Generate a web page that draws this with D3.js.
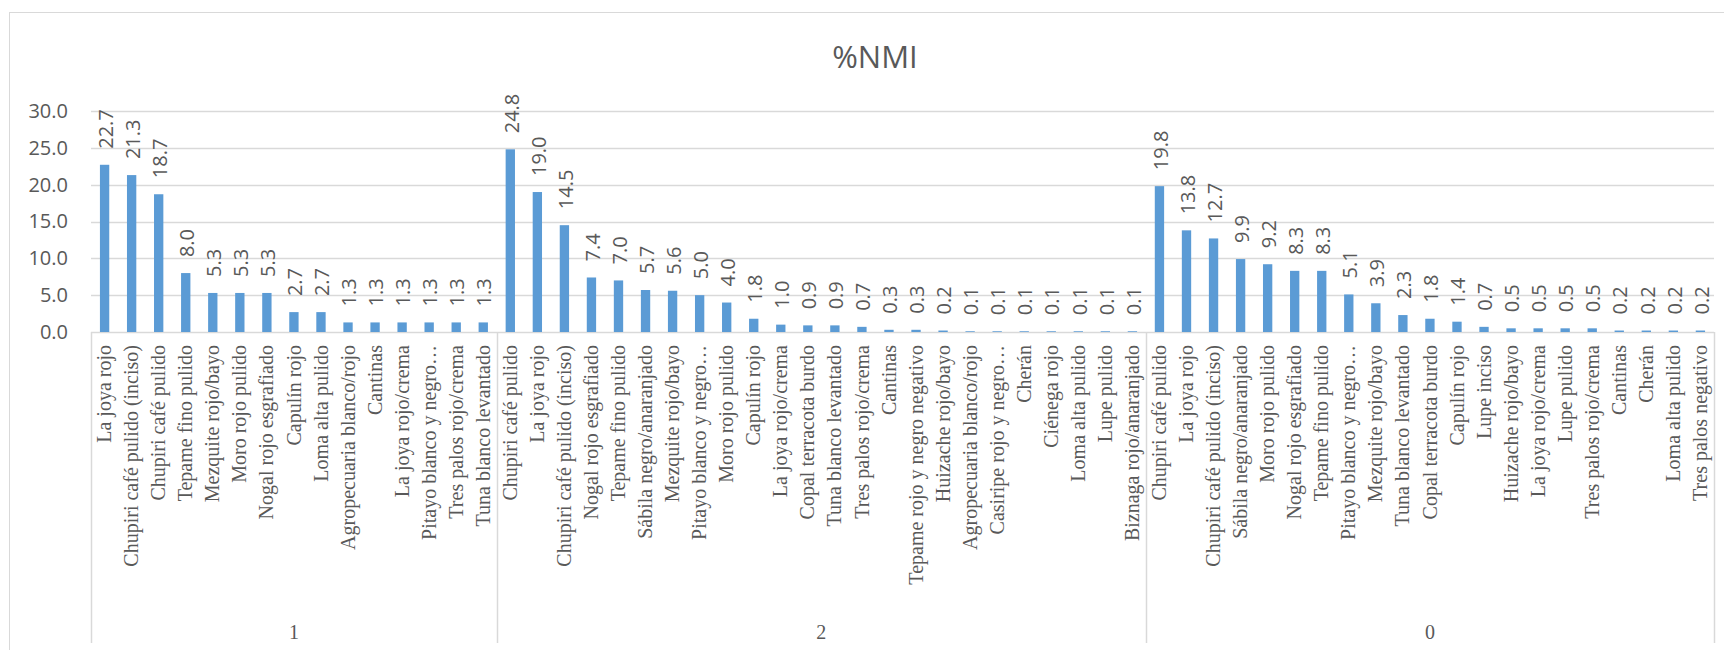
<!DOCTYPE html>
<html>
<head>
<meta charset="utf-8">
<script src="https://cdn.jsdelivr.net/npm/d3@7"></script>
<style>
    body { margin: 0; background: #fff; }
    svg { display: block; }
</style>
</head>
<body>
<svg></svg>
<script>
// group labels
var groups = ["1", "2", "0"];

var cats1 = ["La joya rojo", "Chupiri café pulido (inciso)", "Chupiri café pulido", "Tepame fino pulido",
    "Mezquite rojo/bayo", "Moro rojo pulido", "Nogal rojo esgrafiado", "Capulín rojo", "Loma alta pulido",
    "Agropecuaria blanco/rojo", "Cantinas", "La joya rojo/crema", "Pitayo blanco y negro…",
    "Tres palos rojo/crema", "Tuna blanco levantado"];
var vals1 = [22.7, 21.3, 18.7, 8.0, 5.3, 5.3, 5.3, 2.7, 2.7, 1.3, 1.3, 1.3, 1.3, 1.3, 1.3];

var cats2 = ["Chupiri café pulido", "La joya rojo", "Chupiri café pulido (inciso)", "Nogal rojo esgrafiado",
    "Tepame fino pulido", "Sábila negro/anaranjado", "Mezquite rojo/bayo", "Pitayo blanco y negro…",
    "Moro rojo pulido", "Capulín rojo", "La joya rojo/crema", "Copal terracota burdo", "Tuna blanco levantado",
    "Tres palos rojo/crema", "Cantinas", "Tepame rojo y negro negativo", "Huizache rojo/bayo",
    "Agropecuaria blanco/rojo", "Casiripe rojo y negro…", "Cherán", "Ciénega rojo", "Loma alta pulido",
    "Lupe pulido", "Biznaga rojo/anaranjado"];
var vals2 = [24.8, 19.0, 14.5, 7.4, 7.0, 5.7, 5.6, 5.0, 4.0, 1.8, 1.0, 0.9, 0.9, 0.7, 0.3, 0.3, 0.2,
    0.1, 0.1, 0.1, 0.1, 0.1, 0.1, 0.1];

var cats3 = ["Chupiri café pulido", "La joya rojo", "Chupiri café pulido (inciso)", "Sábila negro/anaranjado",
    "Moro rojo pulido", "Nogal rojo esgrafiado", "Tepame fino pulido", "Pitayo blanco y negro…",
    "Mezquite rojo/bayo", "Tuna blanco levantado", "Copal terracota burdo", "Capulín rojo", "Lupe inciso",
    "Huizache rojo/bayo", "La joya rojo/crema", "Lupe pulido", "Tres palos rojo/crema", "Cantinas",
    "Cherán", "Loma alta pulido", "Tres palos negativo"];
var vals3 = [19.8, 13.8, 12.7, 9.9, 9.2, 8.3, 8.3, 5.1, 3.9, 2.3, 1.8, 1.4, 0.7, 0.5, 0.5, 0.5, 0.5,
    0.2, 0.2, 0.2, 0.2];

var yTicks = [0, 5, 10, 15, 20, 25, 30];

var width = 1724,
    height = 650,
    plotLeft = 91,
    plotRight = 1714,
    plotTop = 111,
    plotBottom = 332;

var textColor = "#595959";
var gridColor = "#d9d9d9";

// flatten into one row per bar
var rows = [];
[[cats1, vals1], [cats2, vals2], [cats3, vals3]].forEach(function (g, gi) {
    g[0].forEach(function (c, i) {
        rows.push({ group: gi, cat: c, value: g[1][i], idx: rows.length });
    });
});

var svg = d3.select("svg")
    .attr("width", width)
    .attr("height", height);

// chart border
svg.append("rect")
    .attr("x", 9.5).attr("y", 12.5)
    .attr("width", 1730).attr("height", 660)
    .attr("fill", "none")
    .attr("stroke", gridColor);

var x = d3.scaleBand()
    .domain(rows.map(function (d) { return d.idx; }))
    .range([plotLeft, plotRight])
    .paddingInner(0.655)
    .paddingOuter(0.33);

var y = d3.scaleLinear()
    .domain([0, 30])
    .range([plotBottom, plotTop]);

// title
svg.append("text")
    .attr("x", 875).attr("y", 68)
    .attr("text-anchor", "middle")
    .style("font-family", "'Open Sans', sans-serif")
    .style("font-size", "31px")
    .style("fill", textColor)
    .text("%NMI");

// gridlines
svg.append("g").selectAll("line")
    .data(yTicks).enter()
    .append("line")
    .attr("x1", plotLeft).attr("x2", plotRight)
    .attr("y1", function (d) { return Math.round(y(d)) + 0.5; })
    .attr("y2", function (d) { return Math.round(y(d)) + 0.5; })
    .attr("stroke", gridColor)
    .attr("stroke-width", 1.5);

// y axis labels
var yAxis = d3.axisLeft(y).tickValues(yTicks).tickFormat(d3.format(".1f")).tickSize(0).tickPadding(23);
var yg = svg.append("g")
    .attr("transform", "translate(" + plotLeft + ",0)")
    .call(yAxis);
yg.select(".domain").remove();
yg.selectAll("text")
    .style("font-family", "'Open Sans', sans-serif")
    .style("font-size", "20px")
    .style("fill", textColor);

// bars
svg.append("g").selectAll("rect")
    .data(rows).enter()
    .append("rect")
    .attr("x", function (d) { return x(d.idx); })
    .attr("width", x.bandwidth())
    .attr("y", function (d) { return y(d.value); })
    .attr("height", function (d) { return plotBottom - y(d.value); })
    .attr("fill", "#5b9bd5");

// value labels
svg.append("g").selectAll("text")
    .data(rows).enter()
    .append("text")
    .attr("transform", function (d) {
        var cx = x(d.idx) + x.bandwidth() / 2 + 1;
        return "translate(" + cx + "," + (y(d.value) - 16) + ")rotate(-90)";
    })
    .attr("dy", "0.36em")
    .style("font-family", "'Open Sans', sans-serif")
    .style("font-size", "20px")
    .style("fill", textColor)
    .text(function (d) { return d3.format(".1f")(d.value); });

// category labels
svg.append("g").selectAll("text")
    .data(rows).enter()
    .append("text")
    .attr("transform", function (d) {
        var cx = x(d.idx) + x.bandwidth() / 2;
        return "translate(" + cx + ",345)rotate(-90)";
    })
    .attr("dy", "0.33em")
    .attr("text-anchor", "end")
    .style("font-family", "'Liberation Serif', serif")
    .style("font-size", "20px")
    .style("fill", textColor)
    .text(function (d) { return d.cat; });

// group separators and labels
var bounds = [0, cats1.length, cats1.length + cats2.length, rows.length];
var edge = function (i) { return plotLeft + (plotRight - plotLeft) * i / rows.length; };

svg.append("g").selectAll("line")
    .data(bounds).enter()
    .append("line")
    .attr("x1", function (d) { return Math.round(edge(d)) + 0.5; })
    .attr("x2", function (d) { return Math.round(edge(d)) + 0.5; })
    .attr("y1", plotBottom).attr("y2", 643)
    .attr("stroke", gridColor)
    .attr("stroke-width", 1.5);

svg.append("g").selectAll("text")
    .data(groups).enter()
    .append("text")
    .attr("x", function (d, i) { return (edge(bounds[i]) + edge(bounds[i + 1])) / 2; })
    .attr("y", 639)
    .attr("text-anchor", "middle")
    .style("font-family", "'Liberation Serif', serif")
    .style("font-size", "20px")
    .style("fill", textColor)
    .text(function (d) { return d; });
</script>
</body>
</html>
